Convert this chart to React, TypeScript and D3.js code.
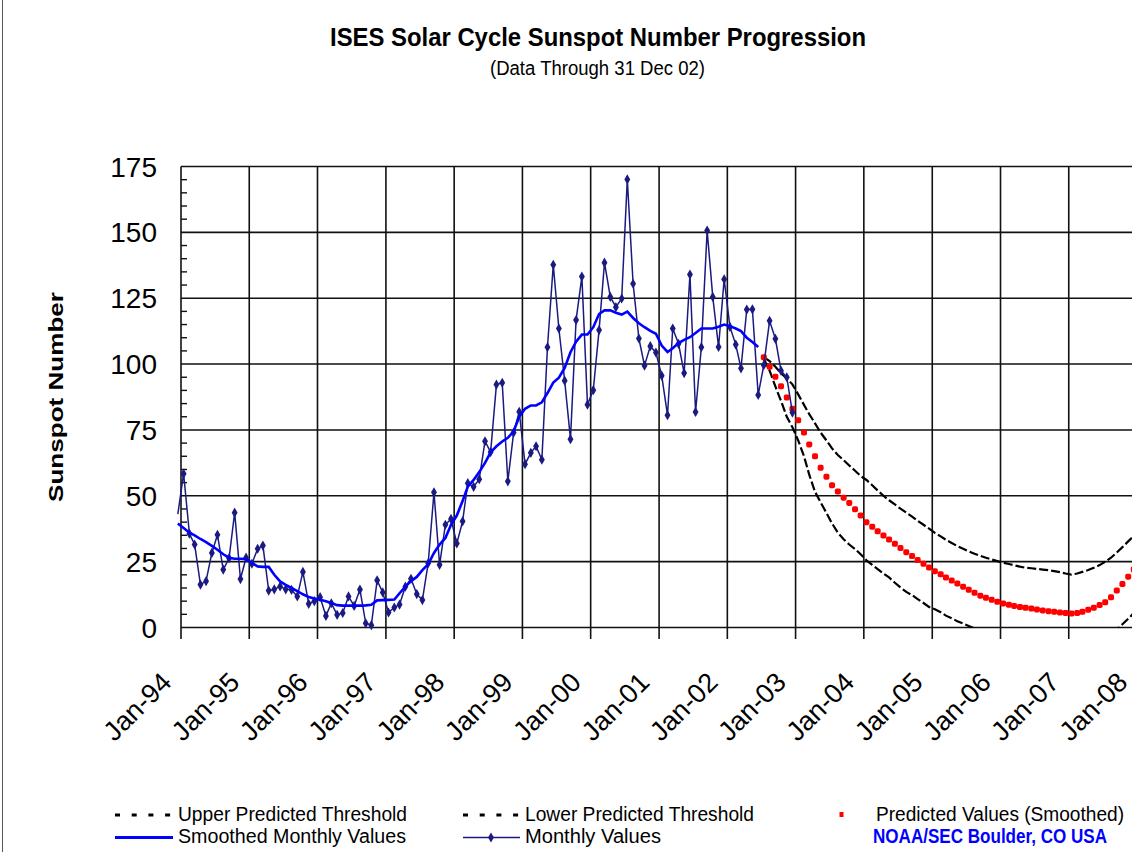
import * as d3 from 'd3'

// monthly sunspot numbers, Dec 1993 .. Dec 2002
const MONTHLY_START = [1993, 11]
const MONTHLY = [
  43.0,
  58.4, 35.6, 31.5, 16.3, 17.6, 28.3, 35.2, 22.0, 26.3, 43.6, 18.4, 26.5,
  24.2, 29.9, 31.1, 14.0, 14.5, 15.6, 14.5, 14.3, 11.8, 21.1, 9.0, 10.0,
  11.5, 4.4, 9.2, 4.8, 5.5, 11.8, 8.2, 14.4, 1.6, 0.9, 17.9, 13.3,
  5.7, 7.6, 8.7, 15.5, 18.5, 12.7, 10.4, 24.4, 51.3, 23.8, 39.0, 41.2,
  31.9, 40.3, 54.8, 53.4, 56.3, 70.7, 66.6, 92.2, 92.9, 55.5, 74.0, 81.9,
  62.0, 66.3, 68.8, 63.7, 106.4, 137.7, 113.5, 93.7, 71.5, 116.7, 133.2, 84.6,
  90.1, 112.9, 138.5, 125.5, 121.6, 124.9, 170.1, 130.5, 109.7, 99.4, 106.8, 104.4,
  95.6, 80.6, 113.5, 107.7, 96.6, 134.0, 81.8, 106.4, 150.7, 125.5, 106.5, 132.2,
  114.1, 107.4, 98.4, 120.7, 120.8, 88.3, 99.6, 116.4, 109.6, 97.5, 95.0, 81.6,
]

// smoothed monthly values, Dec 1993 .. Jun 2002
const SMOOTHED = [
  39.5,
  37.8, 36.0, 35.0, 33.6, 32.4, 31.0, 29.5, 27.8, 26.5, 26.1, 26.1, 26.0,
  24.5, 23.2, 23.0, 23.0, 20.0, 17.5, 16.2, 15.0, 13.8, 12.6, 11.6, 11.0,
  10.5, 10.0, 9.3, 8.5, 8.3, 8.3, 8.3, 8.3, 8.4, 8.6, 10.3, 10.4,
  10.5, 10.6, 13.0, 15.5, 17.6, 19.2, 21.8, 24.0, 28.3, 31.5, 34.0, 39.0,
  42.5, 48.0, 53.5, 56.0, 59.0, 62.5, 66.5, 68.8, 70.6, 72.0, 74.5, 80.0,
  83.0, 84.3, 84.3, 85.5, 89.0, 93.0, 94.8, 98.5, 104.5, 108.5, 111.2, 111.2,
  114.0, 119.0, 120.4, 120.4, 119.5, 118.8, 119.9, 117.5, 115.5, 114.0, 112.6, 111.5,
  107.0, 104.6, 106.0, 108.0, 109.2, 110.2, 111.8, 113.5, 113.5, 113.5, 114.2, 115.0,
  114.4, 113.5, 112.5, 110.0, 108.4, 106.5,
]

// predictions, Jul 2002 .. Dec 2007
const PRED_START = [2002, 6]
const PREDICTED = [
  102.6, 99.0, 95.2, 91.6, 87.3, 83.0,
  78.7, 74.0, 69.5, 65.0, 60.6, 57.2, 54.0, 51.6, 49.3, 47.3, 44.9, 42.5,
  40.0, 38.2, 36.5, 34.9, 33.4, 31.8, 30.2, 28.6, 27.1, 25.6, 24.2, 22.8,
  21.4, 20.2, 19.0, 17.8, 16.7, 15.5, 14.3, 13.2, 12.1, 11.3, 10.5, 9.8,
  9.1, 8.6, 8.2, 7.8, 7.5, 7.2, 6.8, 6.5, 6.2, 6.0, 5.7, 5.5,
  5.3, 5.5, 6.0, 6.7, 7.5, 8.5, 9.6, 11.5, 14.0, 16.5, 19.3, 22.0,
]
const UPPER = [
  102.6, 101.1, 99.0, 96.5, 94.5, 92.3,
  88.5, 84.5, 81.0, 77.5, 74.0, 71.0, 68.0, 65.5, 63.5, 61.5, 59.5, 57.5,
  56.0, 54.0, 52.0, 50.0, 48.3, 46.7, 45.1, 43.6, 42.1, 40.5, 39.0, 37.5,
  35.9, 34.6, 33.3, 32.1, 30.9, 29.9, 28.9, 28.0, 27.2, 26.5, 25.8, 25.2,
  24.6, 24.1, 23.6, 23.1, 22.7, 22.5, 22.2, 22.0, 21.8, 21.4, 21.0, 20.5,
  20.1, 20.5, 21.1, 21.8, 22.7, 23.7, 25.0, 26.5, 28.5, 30.5, 32.7, 34.8,
]
const LOWER = [
  102.0, 97.5, 91.5, 86.0, 80.0, 76.0,
  71.0, 65.0, 58.0, 51.5, 47.5, 43.5, 39.5, 36.0, 33.5, 31.5, 29.8, 27.8,
  25.5, 23.8, 22.2, 20.5, 19.0, 17.0, 15.2, 13.5, 12.3, 10.8, 9.3, 7.8,
  6.9, 5.8, 4.5, 3.5, 2.4, 1.5, 0.6, -0.3, -1.2, -2.2, -3.0, -3.8,
  -4.5, -5.2, -5.8, -6.3, -6.8, -7.2, -7.6, -8.0, -8.3, -8.6, -8.8, -9.0,
  -9.2, -8.8, -8.0, -7.0, -5.8, -4.5, -3.2, -2.5, -0.9, 1.2, 3.3, 5.5,
]

const Y_TICKS = [0, 25, 50, 75, 100, 125, 150, 175]
const X_LABELS = ['Jan-94', 'Jan-95', 'Jan-96', 'Jan-97', 'Jan-98', 'Jan-99', 'Jan-00',
  'Jan-01', 'Jan-02', 'Jan-03', 'Jan-04', 'Jan-05', 'Jan-06', 'Jan-07', 'Jan-08']

const W = 1132
const H = 852
const FONT = '"Liberation Sans Narrow", "Liberation Sans", Arial, sans-serif'
const NAVY = '#1a1a80'

const monthDate = (start: number[], i: number) => new Date(start[0], start[1] + i, 15)

export default function App() {
  const x = d3.scaleTime()
    .domain([new Date(1994, 0, 1), new Date(2008, 0, 1)])
    .range([181, 1137])
  const y = d3.scaleLinear().domain([0, 175]).range([627.5, 166.5])

  const years = d3.range(1994, 2009).map(yr => new Date(yr, 0, 1))
  const minor = d3.range(0, 176, 5).filter(v => v % 25 !== 0)

  const lineFrom = (start: number[]) => d3.line<number>()
    .x((_, i) => x(monthDate(start, i)))
    .y(d => y(d))

  const diamond = d3.symbol().type(d3.symbolDiamond).size(30)()

  return (
    <div style={{ position: 'absolute', left: 0, top: 0 }}>
      <svg width={W} height={H} style={{ display: 'block', background: '#fff' }}>
        <defs>
          <clipPath id="plotClip">
            <rect x={0} y={150} width={W} height={627.5 - 150} />
          </clipPath>
        </defs>

        <line x1={2.5} x2={2.5} y1={0} y2={H} stroke="#555" strokeWidth={1} />

        {/* title */}
        <text x={330} y={46} fontFamily={FONT} fontWeight="bold" fontSize={26}
          textLength={536} lengthAdjust="spacingAndGlyphs">
          ISES Solar Cycle Sunspot Number Progression
        </text>
        <text x={490} y={75} fontFamily={FONT} fontSize={20}
          textLength={215} lengthAdjust="spacingAndGlyphs">
          (Data Through 31 Dec 02)
        </text>

        {/* grid */}
        {Y_TICKS.map(t => (
          <line key={'h' + t} x1={181} x2={1137} y1={y(t)} y2={y(t)} stroke="#111" strokeWidth={1.6} />
        ))}
        {years.map((d, i) => (
          <line key={'v' + i} x1={x(d)} x2={x(d)} y1={y(175)} y2={639} stroke="#111" strokeWidth={1.6} />
        ))}
        {minor.map(t => (
          <line key={'m' + t} x1={181} x2={187} y1={y(t)} y2={y(t)} stroke="#111" strokeWidth={1.4} />
        ))}

        {/* y axis labels */}
        {Y_TICKS.map(t => (
          <text key={'yl' + t} x={157} y={y(t) + 10} textAnchor="end"
            fontFamily={FONT} fontSize={28}>{t}</text>
        ))}
        <text transform="translate(63,397) rotate(-90)" textAnchor="middle"
          fontFamily={FONT} fontWeight="bold" fontSize={21}
          textLength={210} lengthAdjust="spacingAndGlyphs">Sunspot Number</text>

        {/* x axis labels */}
        {X_LABELS.map((lab, i) => (
          <text key={lab} transform={`translate(${x(years[i]) - 8},684) rotate(-45)`}
            textAnchor="end" fontFamily={FONT} fontSize={27}>{lab}</text>
        ))}

        {/* predictions */}
        <g clipPath="url(#plotClip)">
          <path d={lineFrom(PRED_START)(UPPER) || ''} fill="none" stroke="#000"
            strokeWidth={2.2} strokeDasharray="9,3" />
          <path d={lineFrom(PRED_START)(LOWER) || ''} fill="none" stroke="#000"
            strokeWidth={2.2} strokeDasharray="9,3" />
          {PREDICTED.map((v, i) => (
            <rect key={'p' + i} x={x(monthDate(PRED_START, i)) - 3} y={y(v) - 3}
              width={6} height={6} rx={1.8} fill="#ff0000" />
          ))}
        </g>

        {/* observed */}
        <path d={lineFrom(MONTHLY_START)(MONTHLY) || ''} fill="none" stroke={NAVY} strokeWidth={1.5} />
        {MONTHLY.map((v, i) => i === 0 ? null : (
          <path key={'mk' + i} d={diamond || ''} fill={NAVY}
            transform={`translate(${x(monthDate(MONTHLY_START, i))},${y(v)})`} />
        ))}
        <path d={lineFrom(MONTHLY_START)(SMOOTHED) || ''} fill="none" stroke="#0000ff" strokeWidth={2.6} />

        {/* legend */}
        <line x1={115} x2={173} y1={815} y2={815} stroke="#000" strokeWidth={3} strokeDasharray="5,11.7" />
        <text x={178} y={821} fontFamily={FONT} fontSize={20} textLength={229} lengthAdjust="spacingAndGlyphs">Upper Predicted Threshold</text>
        <line x1={115} x2={173} y1={837.5} y2={837.5} stroke="#0000ff" strokeWidth={3} />
        <text x={178} y={843} fontFamily={FONT} fontSize={20} textLength={228} lengthAdjust="spacingAndGlyphs">Smoothed Monthly Values</text>

        <line x1={463} x2={520} y1={815} y2={815} stroke="#000" strokeWidth={3} strokeDasharray="5,11.7" />
        <text x={525} y={821} fontFamily={FONT} fontSize={20} textLength={229} lengthAdjust="spacingAndGlyphs">Lower Predicted Threshold</text>
        <line x1={463} x2={520} y1={837.5} y2={837.5} stroke={NAVY} strokeWidth={1.5} />
        <path d={diamond || ''} fill={NAVY} transform="translate(491,837.5)" />
        <text x={525} y={843} fontFamily={FONT} fontSize={20} textLength={136} lengthAdjust="spacingAndGlyphs">Monthly Values</text>

        <rect x={839.5} y={812} width={4} height={5} fill="#ff0000" />
        <text x={876} y={821} fontFamily={FONT} fontSize={20} textLength={248} lengthAdjust="spacingAndGlyphs">Predicted Values (Smoothed)</text>
        <text x={873} y={843} fontFamily={FONT} fontSize={20} fontWeight="bold" fill="#0000ff"
          textLength={234} lengthAdjust="spacingAndGlyphs">NOAA/SEC Boulder, CO USA</text>
      </svg>
    </div>
  )
}
